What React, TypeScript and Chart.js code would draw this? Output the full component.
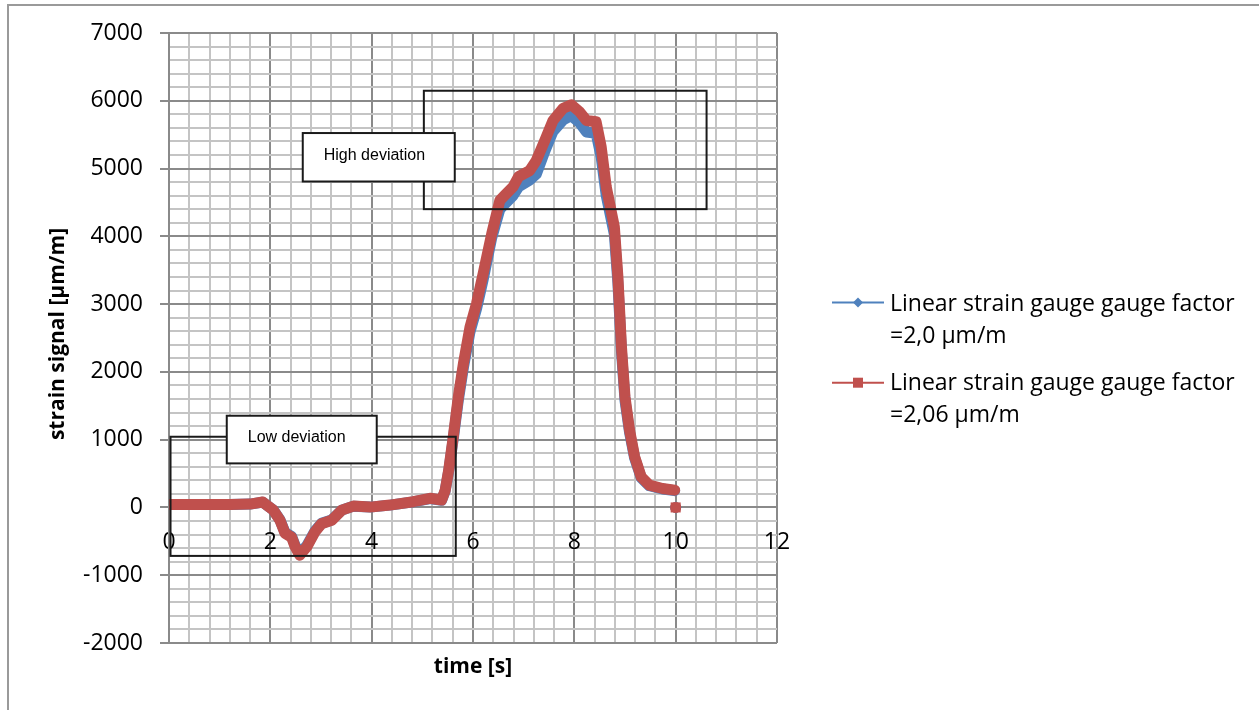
import React, { useEffect, useRef } from "react";
import { Chart, registerables } from "chart.js";

Chart.register(...registerables);

// ---- data ----
const timeValues = [
  0, 0.4, 0.8, 1.2, 1.6, 1.85, 2.06, 2.19, 2.29, 2.42, 2.49, 2.58, 2.72, 2.88, 3.01, 3.21, 3.41, 3.64,
  3.97, 4.36, 4.82, 5.15, 5.38, 5.45, 5.52, 5.61, 5.71, 5.81, 5.94, 6.07, 6.2, 6.37, 6.53, 6.62, 6.79,
  6.9, 7.12, 7.25, 7.42, 7.58, 7.78, 7.94, 8.1, 8.24, 8.43, 8.53, 8.63, 8.79, 8.86, 8.93, 9.0, 9.09,
  9.19, 9.32, 9.48, 9.74, 9.98, 10, 10,
];

const gaugeFactor20 = [
  44, 44, 44, 44, 49, 78, -39, -184, -369, -427, -563, -684, -563, -349, -233, -184, -39, 19,
  5, 34, 82, 131, 107, 243, 534, 1009, 1581, 2060, 2590, 2930, 3360, 3980, 4400, 4470, 4600,
  4730, 4830, 4920, 5260, 5550, 5720, 5780, 5680, 5540, 5520, 5170, 4600, 4030, 3310, 2300, 1580, 1106,
  728, 437, 320, 272, 248, null, 0,
];

const gaugeFactor206 = [
  45, 45, 45, 45, 50, 80, -40, -190, -380, -440, -580, -705, -580, -360, -240, -190, -40, 20,
  5, 35, 85, 135, 110, 250, 550, 1040, 1630, 2120, 2660, 3010, 3450, 4040, 4530, 4600, 4730,
  4880, 4970, 5120, 5420, 5710, 5890, 5940, 5840, 5710, 5690, 5320, 4730, 4140, 3400, 2370, 1630, 1140,
  750, 450, 330, 280, 255, null, 0,
];

const seriesLabels = [
  ["Linear strain gauge gauge factor", "=2,0 µm/m"],
  ["Linear strain gauge gauge factor", "=2,06 µm/m"],
];

const xTickLabels = ["0", "2", "4", "6", "8", "10", "12"];
const yTickLabels = ["-2000", "-1000", "0", "1000", "2000", "3000", "4000", "5000", "6000", "7000"];

const xAxisTitle = "time [s]";
const yAxisTitle = "strain signal [µm/m]";

// deviation regions and their callout boxes, in data units [x1, x2, yTop, yBottom]
const regionHigh = [5.03, 10.61, 6148, 4401];
const calloutHigh = [2.64, 5.64, 5524, 4809];
const regionLow = [0.03, 5.66, 1043, -715];
const calloutLow = [1.14, 4.1, 1353, 650];
const calloutTexts = ["High deviation", "Low deviation"];

const BLUE = "#4F81BD";
const RED = "#C0504D";
const MAJOR = "#8a8a8a";
const MINOR = "#c4c4c4";
const FONT = "'Open Sans', 'Liberation Sans', sans-serif";

const isMajor = (v: number, step: number) => Math.abs(v / step - Math.round(v / step)) < 1e-6;

const overlayPlugin = {
  id: "overlay",
  afterDatasetsDraw(chart: any) {
    const { ctx } = chart;
    const xs = chart.scales.x;
    const ys = chart.scales.y;
    const rect = (r: number[], fill: boolean) => {
      const x1 = xs.getPixelForValue(r[0]);
      const x2 = xs.getPixelForValue(r[1]);
      const y1 = ys.getPixelForValue(r[2]);
      const y2 = ys.getPixelForValue(r[3]);
      if (fill) {
        ctx.fillStyle = "#ffffff";
        ctx.fillRect(x1, y1, x2 - x1, y2 - y1);
      }
      ctx.strokeRect(x1, y1, x2 - x1, y2 - y1);
      return [x1, y1, x2, y2];
    };
    ctx.save();
    ctx.strokeStyle = "#1a1a1a";
    ctx.lineWidth = 2;
    rect(regionHigh, false);
    rect(regionLow, false);
    const callouts = [calloutHigh, calloutLow];
    callouts.forEach((c, i) => {
      const [x1, y1, , y2] = rect(c, true);
      ctx.fillStyle = "#000";
      ctx.font = "16px 'Liberation Sans', sans-serif";
      ctx.textAlign = "left";
      ctx.textBaseline = "middle";
      ctx.fillText(calloutTexts[i], x1 + 21, (y1 + y2) / 2 - 2);
    });
    ctx.restore();
  },
  afterDraw(chart: any) {
    const { ctx, chartArea } = chart;
    ctx.save();
    // axis titles
    ctx.fillStyle = "#000";
    ctx.font = `bold 21px ${FONT}`;
    ctx.textAlign = "center";
    ctx.textBaseline = "alphabetic";
    ctx.fillText(xAxisTitle, (chartArea.left + chartArea.right) / 2, 673);
    ctx.save();
    ctx.translate(64, 334);
    ctx.rotate(-Math.PI / 2);
    ctx.fillText(yAxisTitle, 0, 0);
    ctx.restore();

    // legend
    const items = [
      { color: BLUE, marker: "diamond", y: 302.5, baselines: [310.7, 343.3] },
      { color: RED, marker: "square", y: 382.7, baselines: [390, 422] },
    ];
    items.forEach((it, i) => {
      ctx.strokeStyle = it.color;
      ctx.lineWidth = 2;
      ctx.beginPath();
      ctx.moveTo(832, it.y);
      ctx.lineTo(884, it.y);
      ctx.stroke();
      ctx.fillStyle = it.color;
      ctx.beginPath();
      if (it.marker === "diamond") {
        ctx.moveTo(858, it.y - 5);
        ctx.lineTo(863, it.y);
        ctx.lineTo(858, it.y + 5);
        ctx.lineTo(853, it.y);
        ctx.closePath();
        ctx.fill();
      } else {
        ctx.fillRect(853, it.y - 5, 10, 10);
      }
      ctx.fillStyle = "#000";
      ctx.font = `23px ${FONT}`;
      ctx.textAlign = "left";
      ctx.textBaseline = "alphabetic";
      seriesLabels[i].forEach((line, j) => ctx.fillText(line, 890, it.baselines[j]));
    });
    ctx.restore();
  },
};

export default function App() {
  const canvasRef = useRef<HTMLCanvasElement | null>(null);

  useEffect(() => {
    if (!canvasRef.current) return;
    const last = timeValues.length - 1;
    const toPoints = (vals: (number | null)[]) => timeValues.map((t, i) => ({ x: t, y: vals[i] }));
    const chart = new Chart(canvasRef.current, {
      type: "line",
      data: {
        datasets: [
          {
            label: seriesLabels[0].join(" "),
            data: toPoints(gaugeFactor20) as any,
            borderColor: BLUE,
            backgroundColor: BLUE,
            borderWidth: 11,
            borderJoinStyle: "round",
            borderCapStyle: "round",
            pointStyle: "rectRot",
            pointRadius: (c: any) => (c.dataIndex === last ? 6 : 0),
            pointBorderWidth: 0,
            spanGaps: false,
            tension: 0,
            order: 1,
          },
          {
            label: seriesLabels[1].join(" "),
            data: toPoints(gaugeFactor206) as any,
            borderColor: RED,
            backgroundColor: RED,
            borderWidth: 11,
            borderJoinStyle: "round",
            borderCapStyle: "round",
            pointStyle: "rect",
            pointRadius: (c: any) => (c.dataIndex === last ? 7.1 : 0),
            pointBorderWidth: 0,
            spanGaps: false,
            tension: 0,
            order: 0,
          },
        ],
      },
      options: {
        responsive: false,
        animation: false,
        events: [],
        layout: { padding: { left: 0, top: 33, right: 482, bottom: 67 } },
        plugins: {
          legend: { display: false },
          tooltip: { enabled: false },
          title: { display: false },
        },
        scales: {
          x: {
            type: "linear",
            position: { y: 0 } as any,
            min: 0,
            max: 12,
            ticks: {
              stepSize: 0.4,
              autoSkip: false,
              maxRotation: 0,
              padding: 15,
              color: "#000",
              font: { family: FONT, size: 23 },
              callback: (v: any) => {
                const n = Number(v);
                if (!isMajor(n, 2)) return "";
                const label = xTickLabels[Math.round(n / 2)];
                return label ?? "";
              },
            },
            grid: {
              color: (c: any) => (isMajor(c.tick?.value ?? 0, 2) ? MAJOR : MINOR),
              lineWidth: 2,
              tickLength: 6,
              tickColor: (c: any) => (isMajor(c.tick?.value ?? 0, 2) ? MAJOR : "rgba(0,0,0,0)"),
            },
            border: { display: true, color: MAJOR, width: 2 },
          },
          y: {
            type: "linear",
            position: "left",
            min: -2000,
            max: 7000,
            afterFit: (s: any) => {
              s.width = 169;
            },
            ticks: {
              stepSize: 200,
              autoSkip: false,
              padding: 17,
              color: "#000",
              font: { family: FONT, size: 23 },
              callback: (v: any) => {
                const n = Number(v);
                if (!isMajor(n, 1000)) return "";
                const label = yTickLabels[Math.round((n + 2000) / 1000)];
                return label ?? "";
              },
            },
            grid: {
              color: (c: any) => (isMajor(c.tick?.value ?? 1, 1000) ? MAJOR : MINOR),
              lineWidth: 2,
              tickLength: 9,
              tickColor: (c: any) => (isMajor(c.tick?.value ?? 1, 1000) ? MAJOR : "rgba(0,0,0,0)"),
            },
            border: { display: true, color: MAJOR, width: 2 },
          },
        },
      },
      plugins: [overlayPlugin],
    });
    return () => chart.destroy();
  }, []);

  return (
    <div
      style={{
        position: "absolute",
        left: 0,
        top: 0,
        width: 1259,
        height: 710,
        overflow: "hidden",
        background: "#fff",
      }}
    >
      <canvas ref={canvasRef} width={1259} height={710} style={{ position: "absolute", left: 0, top: 0 }} />
      <div
        style={{
          position: "absolute",
          left: 7,
          top: 4,
          width: 1260,
          height: 720,
          borderLeft: "2px solid #9a9a9a",
          borderTop: "2px solid #9a9a9a",
          pointerEvents: "none",
        }}
      />
    </div>
  );
}
